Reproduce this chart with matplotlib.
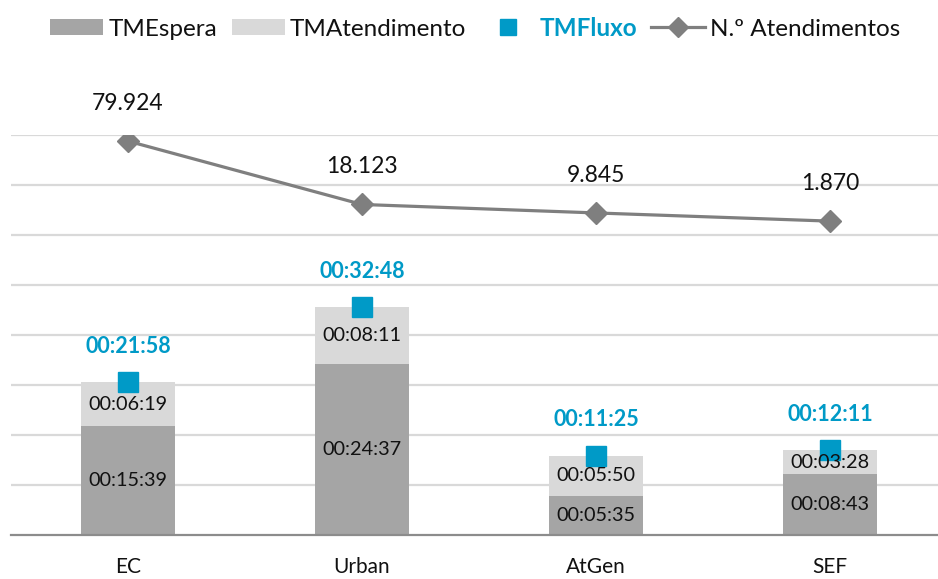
import matplotlib
matplotlib.use("Agg")
import matplotlib.pyplot as plt
from matplotlib.patches import Patch
from matplotlib.lines import Line2D

plt.rcParams['font.family'] = ['Lato', 'DejaVu Sans']

categories = ["EC", "Urban", "AtGen", "SEF"]
tm_espera = ["00:15:39", "00:24:37", "00:05:35", "00:08:43"]
tm_atend = ["00:06:19", "00:08:11", "00:05:50", "00:03:28"]
tm_fluxo = ["00:21:58", "00:32:48", "00:11:25", "00:12:11"]
n_atend = [79924, 18123, 9845, 1870]

def secs(s):
    h, m, x = (int(v) for v in s.split(":"))
    return h * 3600 + m * 60 + x

esp = [secs(s) for s in tm_espera]
att = [secs(s) for s in tm_atend]
flx = [secs(s) for s in tm_fluxo]

C_ESP = "#A5A5A5"
C_ATT = "#D9D9D9"
C_BLUE = "#009AC7"
C_LINE = "#7F7F7F"

W, H = 938, 579
fig = plt.figure(figsize=(W / 100, H / 100), dpi=100)
ax = fig.add_axes([11 / W, 44 / H, 936 / W, 400 / H])
ax.set_xlim(-0.5, 3.5)
ax.set_ylim(0, 3456)
x = list(range(len(categories)))

for v in range(432, 3457, 432):
    ax.axhline(v, color="#D9D9D9", lw=1.6, zorder=0)

ax.bar(x, esp, width=0.40, color=C_ESP, zorder=2)
ax.bar(x, att, width=0.40, bottom=esp, color=C_ATT, zorder=2)
ax.plot(x, flx, ls="none", marker="s", ms=13.7, color=C_BLUE, zorder=4)

for i in x:
    ax.text(i, esp[i] / 2, tm_espera[i], ha="center", va="center", fontsize=14.3, color="#111111", zorder=5)
    ax.text(i, esp[i] + att[i] / 2, tm_atend[i], ha="center", va="center", fontsize=14.3, color="#111111", zorder=5)
    ax.annotate(tm_fluxo[i], (i, flx[i]), xytext=(0, 26), textcoords="offset points",
                ha="center", va="center", fontsize=15.5, color=C_BLUE, fontweight="bold", zorder=5)

for s in ["top", "right", "left"]:
    ax.spines[s].set_visible(False)
ax.spines["bottom"].set_color("#8C8C8C")
ax.spines["bottom"].set_linewidth(1.6)
ax.set_yticks([])
ax.set_xticks(x)
ax.set_xticklabels(categories, fontsize=15, color="#111111")
ax.tick_params(axis="x", length=0, pad=16)

ax2 = ax.twinx()
ax2.set_ylim(-304400, 85900)
ax2.plot(x, n_atend, color=C_LINE, lw=2.3, marker="D", ms=11, zorder=3)
for i in x:
    lab = f"{n_atend[i]:,}".replace(",", ".")
    ax2.annotate(lab, (i, n_atend[i]), xytext=(0, 27), textcoords="offset points",
                 ha="center", va="center", fontsize=16.5, color="#111111")
ax2.axis("off")

handles = [
    Patch(facecolor=C_ESP, edgecolor="none"),
    Patch(facecolor=C_ATT, edgecolor="none"),
    Line2D([], [], ls="none", marker="s", ms=11, color=C_BLUE),
    Line2D([], [], color=C_LINE, lw=2.3, marker="D", ms=10),
]
labels = ["TMEspera", "TMAtendimento", "TMFluxo", "N.º Atendimentos"]
leg = fig.legend(handles, labels, loc="center", bbox_to_anchor=(475 / W, 1 - 28 / H), ncol=4,
                 frameon=False, fontsize=17.5, handlelength=2.2, handleheight=0.65,
                 handletextpad=0.2, columnspacing=0.6, borderaxespad=0)
for t in leg.get_texts():
    t.set_color("#111111")
leg.get_texts()[2].set_color(C_BLUE)
leg.get_texts()[2].set_fontweight("bold")

fig.savefig("out.png", dpi=100)
